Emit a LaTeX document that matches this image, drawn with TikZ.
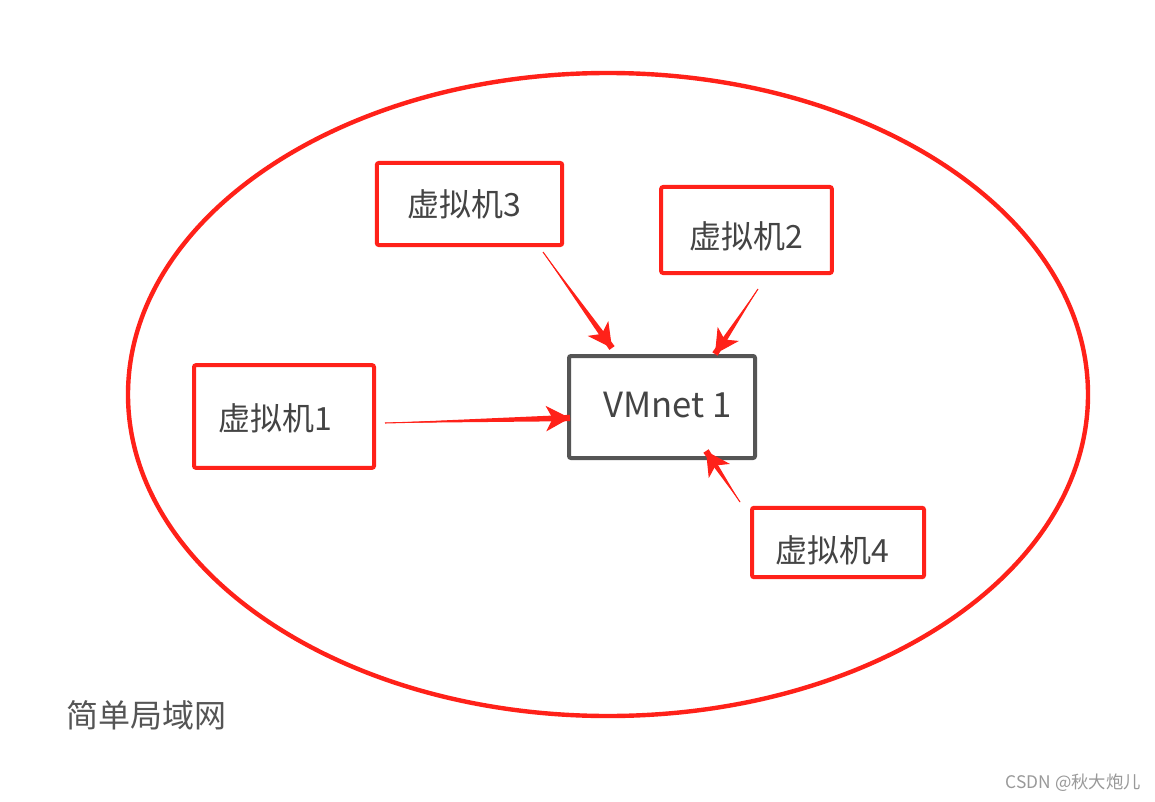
\documentclass[tikz,border=0pt]{standalone}
\usepackage{fontspec}
\newfontfamily\cjk{Noto Sans CJK SC}
\usetikzlibrary{arrows.meta,calc}
\definecolor{lred}{HTML}{FF2119}
\definecolor{txtgray}{HTML}{444444}
\definecolor{boxgray}{HTML}{555555}
\definecolor{wmgray}{HTML}{999999}
\tikzset{
  vmbox/.style={draw=lred, line width=3pt, rounded corners=1.5pt, inner sep=0pt},
  netbox/.style={draw=boxgray, line width=3pt, rounded corners=1.5pt, inner sep=0pt},
  lbl/.style={text=txtgray, font=\cjk\fontsize{24}{28}\selectfont, inner sep=0pt},
  headtip/.style={draw=lred, fill=lred, line width=0.8pt, -{Stealth[length=18pt,width=19pt,inset=5pt]}}
}
\newcommand{\taparrow}[2]{%
  \fill[lred] (#1) -- ($(#2)!2.4pt!90:(#1)$) -- ($(#2)!2.4pt!-90:(#1)$) -- cycle;
  \draw[headtip] (#1) -- (#2);
}
\begin{document}
\begin{tikzpicture}[x=0.75pt,y=-0.75pt]
\useasboundingbox (0,0) rectangle (1155,802);
\fill[white] (0,0) rectangle (1155,802);
% LAN ellipse
\draw[lred, line width=3.3pt] (608,394.5) ellipse [x radius=480, y radius=321.5];
% boxes
\node[vmbox, minimum width=139pt, minimum height=61.5pt] (vm3) at (469.5,204) {};
\node[vmbox, minimum width=128pt, minimum height=64.5pt] (vm2) at (746.5,230) {};
\node[vmbox, minimum width=135pt, minimum height=77pt] (vm1) at (284,416.5) {};
\node[vmbox, minimum width=129pt, minimum height=52pt] (vm4) at (838,542.5) {};
\node[netbox, minimum width=139.5pt, minimum height=76.5pt] (net) at (662,407) {};
% labels
\node[lbl, anchor=west] (t3) at (407,204) {虚拟机3};
\node[lbl, anchor=west] (t2) at (689,236) {虚拟机2};
\node[lbl, anchor=west] (t1) at (218,418) {虚拟机1};
\node[lbl, anchor=west] (t4) at (775,550) {虚拟机4};
\node[lbl, anchor=west, font=\cjk\fontsize{26}{30}\selectfont] (tn) at (603,405) {VMnet 1};
\node[lbl, anchor=west, text=boxgray] (lan) at (66,715) {简单局域网};
\node[anchor=east, text=wmgray, font=\cjk\fontsize{13}{15}\selectfont, inner sep=0pt] (wm) at (1141,783) {CSDN @秋大炮儿};
% arrow endpoints
\coordinate (a3s) at (543,252); \coordinate (a3e) at (612,348);
\coordinate (a2s) at (758,289); \coordinate (a2e) at (715,354);
\coordinate (a1s) at (385,423); \coordinate (a1e) at (570,418);
\coordinate (a4s) at (740,502); \coordinate (a4e) at (706,451);
\taparrow{a3s}{a3e}
\taparrow{a2s}{a2e}
\taparrow{a1s}{a1e}
\taparrow{a4s}{a4e}
\end{tikzpicture}
\end{document}
